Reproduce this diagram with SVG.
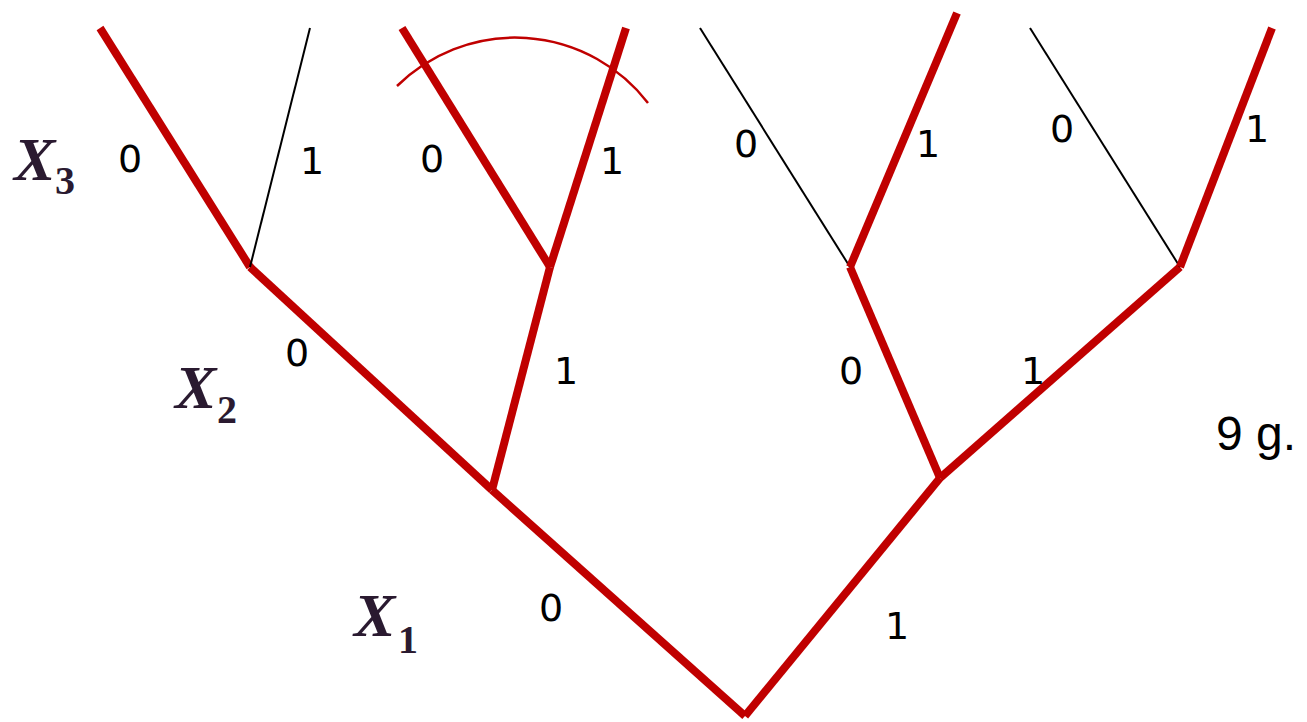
<svg xmlns="http://www.w3.org/2000/svg" width="1307" height="722" viewBox="0 0 1307 722">
<style>
.red{stroke:#c00000;stroke-width:8;fill:none;stroke-linecap:butt}
.thin{stroke:#000;stroke-width:2;fill:none}
.arc{stroke:#c00000;stroke-width:2.5;fill:none}
.lbl{font-family:"DejaVu Sans",sans-serif;font-size:38px;fill:#000;text-anchor:middle}
.var{font-family:"Liberation Serif",serif;font-style:italic;font-weight:bold;font-size:62px;fill:#2a1a30}
.sub{font-family:"Liberation Serif",serif;font-weight:bold;font-size:40px;fill:#2a1a30}
.note{font-family:"Liberation Sans",sans-serif;font-size:48px;fill:#000}
</style>
<rect width="1307" height="722" fill="#fff"/>
<g id="connectors">
<path class="red" d="M745,716 L492,490"/>
<path class="red" d="M745,716 L940,478"/>
<path class="red" d="M492,490 L250,267"/>
<path class="red" d="M492,490 L550,267"/>
<path class="red" d="M940,478 L850,267"/>
<path class="red" d="M940,478 L1180,267"/>
<path class="red" d="M250,267 L100,28"/>
<path class="thin" d="M250,267 L310,28"/>
<path class="red" d="M550,267 L402,28"/>
<path class="red" d="M550,267 L626,28"/>
<path class="thin" d="M850,267 L700,28"/>
<path class="red" d="M850,267 L957,13"/>
<path class="thin" d="M1180,267 L1030,28"/>
<path class="red" d="M1180,267 L1272,28"/>
<path class="arc" d="M397,86 A168,168 0 0 1 648,103"/>
</g>
<g id="edge-labels">
<text class="lbl" x="130" y="172">0</text>
<text class="lbl" x="312" y="174">1</text>
<text class="lbl" x="432" y="172">0</text>
<text class="lbl" x="612" y="174">1</text>
<text class="lbl" x="746" y="157">0</text>
<text class="lbl" x="928" y="157">1</text>
<text class="lbl" x="1062" y="142">0</text>
<text class="lbl" x="1257" y="142">1</text>
<text class="lbl" x="297" y="366">0</text>
<text class="lbl" x="566" y="384">1</text>
<text class="lbl" x="851" y="384">0</text>
<text class="lbl" x="1033" y="384">1</text>
<text class="lbl" x="551" y="621">0</text>
<text class="lbl" x="897" y="639">1</text>
</g>
<g id="var-x3"><text class="var" x="14" y="180">X</text><text class="sub" x="55" y="194">3</text></g>
<g id="var-x2"><text class="var" x="175" y="408">X</text><text class="sub" x="217" y="423">2</text></g>
<g id="var-x1"><text class="var" x="354" y="636">X</text><text class="sub" x="398" y="653">1</text></g>
<g id="note"><text class="note" x="1216" y="450">9 g.</text></g>
</svg>
